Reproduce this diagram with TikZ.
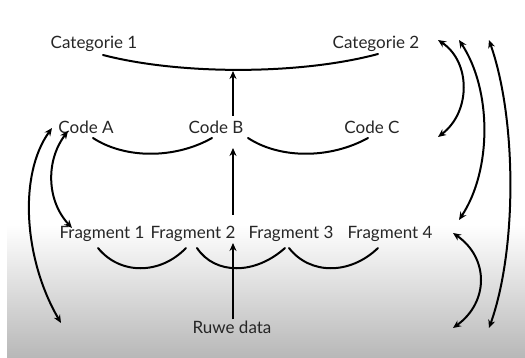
\documentclass[tikz,border=0pt]{standalone}
\usepackage{fontspec}
\setmainfont{Lato}
\usetikzlibrary{arrows.meta}
\begin{document}
\begin{tikzpicture}[x=1pt,y=-1pt,
  lbl/.style={font=\fontsize{17}{20}\selectfont, text=black!85, inner sep=1pt},
  brace/.style={line width=2pt, line cap=round},
  up/.style={line width=2pt, -{Stealth[length=8pt,width=7pt]}},
  both/.style={line width=2pt, {Stealth[length=8pt,width=7pt]}-{Stealth[length=8pt,width=7pt]}}]
\useasboundingbox (0,0) rectangle (525,358);
\shade[top color=white, bottom color=black!28] (7,225) rectangle (525,358);
% labels
\node[lbl] (cat1) at (94,44) {Categorie 1};
\node[lbl] (cat2) at (376,44) {Categorie 2};
\node[lbl] (codeA) at (86,127) {Code A};
\node[lbl] (codeB) at (216,127) {Code B};
\node[lbl] (codeC) at (372,127) {Code C};
\node[lbl] (fr1) at (102,234) {Fragment 1};
\node[lbl] (fr2) at (193,234) {Fragment 2};
\node[lbl] (fr3) at (291,234) {Fragment 3};
\node[lbl] (fr4) at (390,234) {Fragment 4};
\node[lbl] (ruwe) at (232,327) {Ruwe data};
% brackets
\draw[brace] (103,55) .. controls (180,75) and (300,75) .. (378,54);
\draw[brace] (93,138) .. controls (125,159) and (175,159) .. (212,138);
\draw[brace] (248,138) .. controls (280,159) and (330,159) .. (368,138);
\draw[brace] (98,248) .. controls (120,275) and (160,275) .. (186,248);
\draw[brace] (197,248) .. controls (215,275) and (255,275) .. (285,248);
\draw[brace] (289,248) .. controls (310,275) and (350,275) .. (378,248);
% vertical arrows
\coordinate (catTip) at (233,71);
\coordinate (codeBbot) at (233,215);
\coordinate (codeBtip) at (233,148);
\coordinate (frTip) at (233,243);
\draw[up] (233,116) -- (catTip);
\draw[up] (codeBbot) -- (codeBtip);
\draw[up] (ruwe.north -| frTip) -- (frTip);
% left side arrows
\coordinate (l1a) at (52,128); \coordinate (l1b) at (61,323);
\coordinate (l2a) at (68,131); \coordinate (l2b) at (72,228);
\draw[both] (l1a) .. controls (18,175) and (24,260) .. (l1b);
\draw[both] (l2a) .. controls (46,160) and (46,200) .. (l2b);
% right side arrows
\coordinate (ra) at (438,40); \coordinate (rab) at (438,137);
\coordinate (rb) at (459,40); \coordinate (rbb) at (459,220);
\coordinate (rc) at (489,40); \coordinate (rcb) at (489,328);
\coordinate (rd) at (453,233); \coordinate (rdb) at (453,328);
\draw[both] (ra) .. controls (471,62) and (471,112) .. (rab);
\draw[both] (rb) .. controls (492,90) and (492,170) .. (rbb);
\draw[both] (rc) .. controls (517,120) and (517,250) .. (rcb);
\draw[both] (rd) .. controls (489,258) and (489,302) .. (rdb);
\end{tikzpicture}
\end{document}
